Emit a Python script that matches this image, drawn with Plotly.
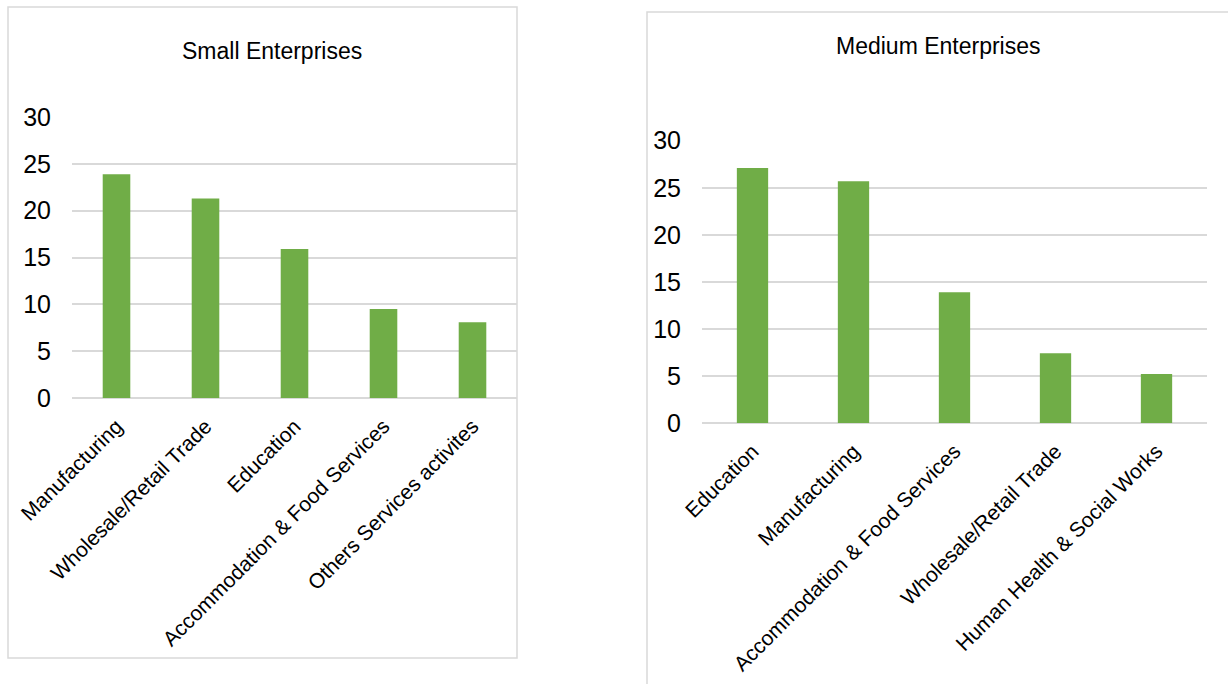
import plotly.graph_objects as go

W, H = 1228, 684

small_categories = ["Manufacturing", "Wholesale/Retail Trade", "Education",
                    "Accommodation & Food Services", "Others Services activites"]
small_values = [23.9, 21.3, 15.9, 9.5, 8.1]

medium_categories = ["Education", "Manufacturing", "Accommodation & Food Services",
                     "Wholesale/Retail Trade", "Human Health & Social Works"]
medium_values = [27.1, 25.7, 13.9, 7.4, 5.2]

y_ticks = [0, 5, 10, 15, 20, 25, 30]

BAR = "#70ad47"
GRID = "#d9d9d9"
FONT = "Liberation Sans"

def px_x(p):
    return p / W

def px_y(p):
    return 1 - p / H

fig = go.Figure()
fig.add_trace(go.Bar(x=small_categories, y=small_values, marker_color=BAR,
                     marker_line_width=0, width=0.31, xaxis="x", yaxis="y"))
fig.add_trace(go.Bar(x=medium_categories, y=medium_values, marker_color=BAR,
                     marker_line_width=0, width=0.31, xaxis="x2", yaxis="y2"))

xcommon = dict(tickangle=-45, showgrid=False, showline=False, zeroline=False,
               tickfont=dict(family=FONT, size=21, color="#000"), automargin=False,
               range=[-0.5, 4.5], fixedrange=True, ticks="", ticklabelstandoff=11)
ycommon = dict(range=[0, 30], tickvals=y_ticks, showgrid=True, gridcolor=GRID,
               gridwidth=1.5, zeroline=True, zerolinecolor=GRID, zerolinewidth=2,
               showline=False, tickfont=dict(family=FONT, size=25, color="#000"),
               automargin=False, ticks="", ticklabelstandoff=20, fixedrange=True)

fig.update_layout(
    template="none",
    width=W, height=H,
    margin=dict(l=0, r=0, t=0, b=0, autoexpand=False),
    paper_bgcolor="white", plot_bgcolor="white",
    showlegend=False,
    xaxis=dict(domain=[px_x(72), px_x(517)], anchor="y", **xcommon),
    yaxis=dict(domain=[px_y(398), px_y(117)], anchor="x", **ycommon),
    xaxis2=dict(domain=[px_x(702), px_x(1207)], anchor="y2", **xcommon),
    yaxis2=dict(domain=[px_y(423), px_y(140.7)], anchor="x2", **ycommon),
    shapes=[
        dict(type="rect", xref="paper", yref="paper",
             x0=px_x(8), x1=px_x(517), y0=px_y(658), y1=px_y(7),
             line=dict(color=GRID, width=1.5), fillcolor="rgba(0,0,0,0)", layer="below"),
        dict(type="rect", xref="paper", yref="paper",
             x0=px_x(647), x1=px_x(1240), y0=px_y(700), y1=px_y(12),
             line=dict(color=GRID, width=1.5), fillcolor="rgba(0,0,0,0)", layer="below"),
    ],
    annotations=[
        dict(text="Small Enterprises", xref="paper", yref="paper",
             x=px_x(272), y=px_y(51), showarrow=False, xanchor="center", yanchor="middle",
             font=dict(family=FONT, size=23, color="#000")),
        dict(text="Medium Enterprises", xref="paper", yref="paper",
             x=px_x(938), y=px_y(46), showarrow=False, xanchor="center", yanchor="middle",
             font=dict(family=FONT, size=23, color="#000")),
    ],
)

fig.write_html("out.html")
